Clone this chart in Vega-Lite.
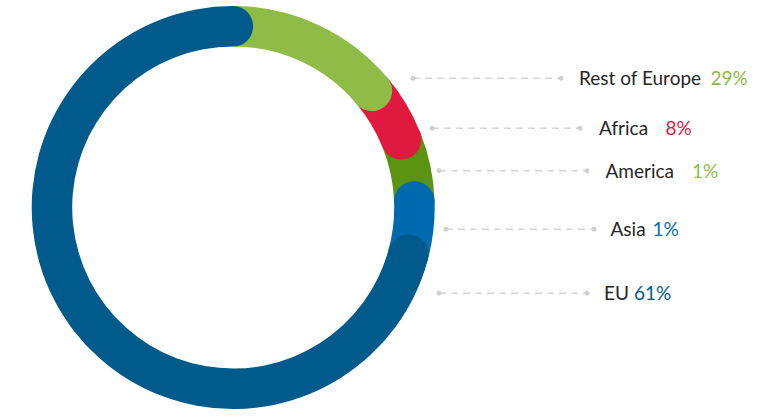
{
  "$schema": "https://vega.github.io/schema/vega-lite/v6.json",
  "width": 778,
  "height": 418,
  "autosize": {"type": "fit", "contains": "padding"},
  "padding": 0,
  "background": "white",
  "config": {"view": {"stroke": null}},
  "datasets": {
    "arcs": [
      {"region": "America", "start": 61.7, "end": 94.3},
      {"region": "Africa", "start": 43.7, "end": 74.3},
      {"region": "Rest of Europe", "start": -6.3, "end": 56.3},
      {"region": "Asia", "start": 81.7, "end": 111.3},
      {"region": "EU", "start": 98.7, "end": 366.3}
    ],
    "labels": [
      {"region": "Rest of Europe", "share": 0.29, "lineStart": 413, "lineEnd": 561, "lineY": 78.3, "nameX": 579, "pctX": 710.5},
      {"region": "Africa", "share": 0.08, "lineStart": 432, "lineEnd": 580, "lineY": 128.3, "nameX": 599, "pctX": 665.5},
      {"region": "America", "share": 0.01, "lineStart": 439, "lineEnd": 587, "lineY": 170.7, "nameX": 605.5, "pctX": 692},
      {"region": "Asia", "share": 0.01, "lineStart": 446, "lineEnd": 594, "lineY": 229.3, "nameX": 610.5, "pctX": 652.5},
      {"region": "EU", "share": 0.61, "lineStart": 439, "lineEnd": 587, "lineY": 293.3, "nameX": 604, "pctX": 634}
    ]
  },
  "layer": [
    {
      "data": {"name": "arcs"},
      "mark": {"type": "arc", "radius": 201.5, "radius2": 161, "cornerRadius": 20},
      "encoding": {
        "x": {"datum": 233.2, "type": "quantitative", "scale": {"domain": [0, 778], "nice": false, "zero": false}, "axis": null},
        "y": {"datum": 207.5, "type": "quantitative", "scale": {"domain": [0, 418], "reverse": true, "nice": false, "zero": false}, "axis": null},
        "theta": {"field": "start", "type": "quantitative", "stack": null, "scale": {"domain": [0, 360], "range": [0, 6.283185307179586], "nice": false, "zero": false}},
        "theta2": {"field": "end"},
        "color": {
          "field": "region", "type": "nominal", "legend": null,
          "scale": {"domain": ["Rest of Europe", "Africa", "America", "Asia", "EU"], "range": ["#8fbc47", "#e0193f", "#5c9312", "#006aae", "#005a8c"]}
        }
      }
    },
    {
      "data": {"name": "labels"},
      "mark": {"type": "rule", "stroke": "#d6d6d6", "strokeWidth": 1.5, "strokeDash": [7, 5]},
      "encoding": {
        "x": {"field": "lineStart", "type": "quantitative", "axis": null},
        "x2": {"field": "lineEnd"},
        "y": {"field": "lineY", "type": "quantitative", "axis": null}
      }
    },
    {
      "data": {"name": "labels"},
      "mark": {"type": "circle", "size": 24, "color": "#d0d0d0", "opacity": 1},
      "encoding": {
        "x": {"field": "lineStart", "type": "quantitative", "axis": null},
        "y": {"field": "lineY", "type": "quantitative", "axis": null}
      }
    },
    {
      "data": {"name": "labels"},
      "mark": {"type": "circle", "size": 24, "color": "#d0d0d0", "opacity": 1},
      "encoding": {
        "x": {"field": "lineEnd", "type": "quantitative", "axis": null},
        "y": {"field": "lineY", "type": "quantitative", "axis": null}
      }
    },
    {
      "data": {"name": "labels"},
      "mark": {"type": "text", "align": "left", "baseline": "alphabetic", "dy": 7, "font": "Lato", "fontSize": 19, "fill": "#262626"},
      "encoding": {
        "x": {"field": "nameX", "type": "quantitative", "axis": null},
        "y": {"field": "lineY", "type": "quantitative", "axis": null},
        "text": {"field": "region"}
      }
    },
    {
      "data": {"name": "labels"},
      "mark": {"type": "text", "align": "left", "baseline": "alphabetic", "dy": 7, "font": "Lato", "fontSize": 19},
      "encoding": {
        "x": {"field": "pctX", "type": "quantitative", "axis": null},
        "y": {"field": "lineY", "type": "quantitative", "axis": null},
        "text": {"field": "share", "format": ".0%"},
        "fill": {
          "field": "region", "type": "nominal", "legend": null,
          "scale": {"domain": ["Rest of Europe", "Africa", "America", "Asia", "EU"], "range": ["#8dbd46", "#e21a46", "#8dbd46", "#006db3", "#005a8c"]}
        }
      }
    }
  ]
}
